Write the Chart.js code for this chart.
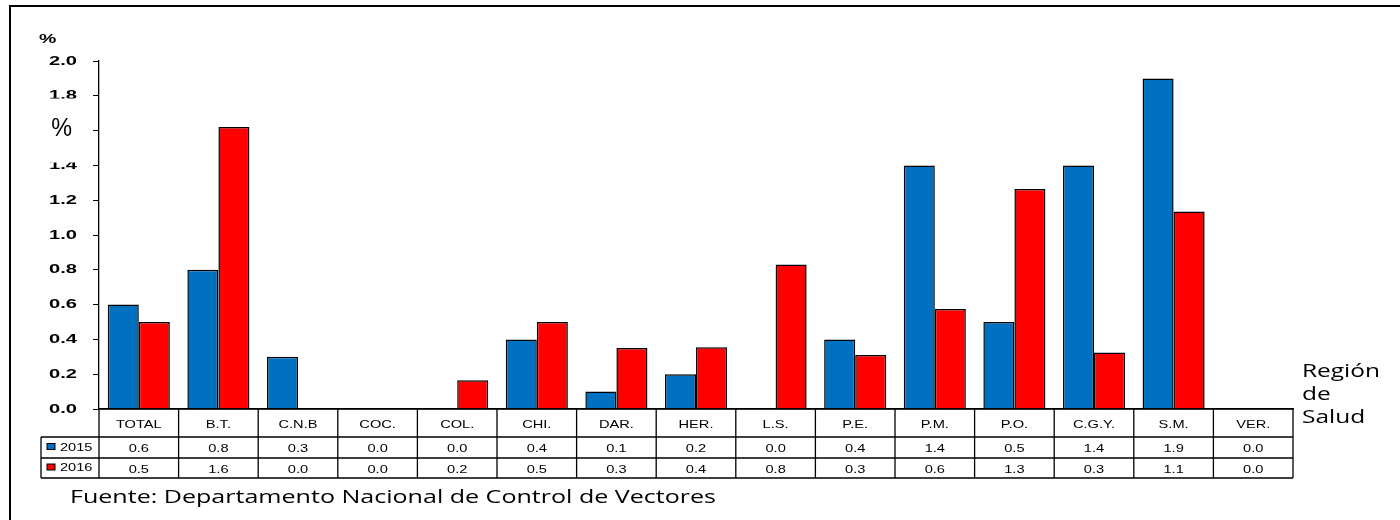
<!DOCTYPE html>
<html>
<head>
<meta charset="utf-8">
<script src="https://cdn.jsdelivr.net/npm/chart.js@4.4.1/dist/chart.umd.min.js"></script>
<style>
  html, body { margin: 0; padding: 0; background: #fff; }
  #wrap { width: 1400px; height: 520px; }
</style>
</head>
<body>
<div id="wrap"><canvas id="regionChart" width="1400" height="520"></canvas></div>
<script>
// data
const regions = ["TOTAL", "B.T.", "C.N.B", "COC.", "COL.", "CHI.", "DAR.", "HER.", "L.S.", "P.E.", "P.M.", "P.O.", "C.G.Y.", "S.M.", "VER."];
const years = ["2015", "2016"];
// bar heights (as drawn)
const bars2015 = [0.6, 0.8, 0.3, 0.0, 0.0, 0.4, 0.1, 0.2, 0.0, 0.4, 1.4, 0.5, 1.4, 1.9, 0.0];
const bars2016 = [0.5, 1.62, 0.0, 0.0, 0.165, 0.5, 0.35, 0.355, 0.83, 0.31, 0.575, 1.265, 0.325, 1.135, 0.0];
// values printed in the data table
const table2015 = ["0.6", "0.8", "0.3", "0.0", "0.0", "0.4", "0.1", "0.2", "0.0", "0.4", "1.4", "0.5", "1.4", "1.9", "0.0"];
const table2016 = ["0.5", "1.6", "0.0", "0.0", "0.2", "0.5", "0.3", "0.4", "0.8", "0.3", "0.6", "1.3", "0.3", "1.1", "0.0"];
const yTicks = [0, 0.2, 0.4, 0.6, 0.8, 1.0, 1.2, 1.4, 1.6, 1.8, 2.0];
const axisTitle = ["Región", "de", "Salud"];
const source = "Fuente: Departamento Nacional de Control de Vectores";

const BLUE = "#0070C0";
const RED = "#FF0000";
const ARIAL = "'Liberation Sans', Arial, sans-serif";
const CALIBRI = "'Open Sans', 'Noto Sans', sans-serif";

const isPct = v => Math.abs(v - 1.6) < 1e-6;

// the original picture is stretched sideways, so text is too
function wideText(ctx, text, x, y, font, sx, align) {
    ctx.save();
    ctx.font = font;
    ctx.textAlign = align || "left";
    ctx.textBaseline = "middle";
    ctx.translate(x, y);
    ctx.scale(sx, 1);
    ctx.fillText(text, 0, 0);
    ctx.restore();
}

// draws the frame, y labels, data table, side labels and source note
const tablePlugin = {
    id: "dataTable",
    afterDraw(chart) {
        const ctx = chart.ctx;
        const x = chart.scales.x;
        const y = chart.scales.y;
        const area = chart.chartArea;
        const catW = (area.right - area.left) / regions.length;
        const top = area.bottom;
        const r1 = top + 28, r2 = r1 + 21, r3 = r2 + 20;
        const legLeft = 41;

        ctx.save();
        ctx.fillStyle = "#000";
        ctx.strokeStyle = "#000";

        // outer frame
        ctx.lineWidth = 2;
        ctx.beginPath();
        ctx.moveTo(10, 530); ctx.lineTo(10, 6); ctx.lineTo(1400, 6);
        ctx.stroke();

        // y tick labels
        yTicks.forEach(v => {
            if (!isPct(v)) wideText(ctx, v.toFixed(1), 77, y.getPixelForValue(v), "bold 13px " + ARIAL, 1.55, "right");
        });
        // the "%" box that hides part of 1.8 and 1.4
        ctx.fillStyle = "#fff";
        ctx.fillRect(30, 98.5, 58, 64);
        ctx.fillStyle = "#000";
        wideText(ctx, "%", 72, y.getPixelForValue(1.6) - 2, "26px " + ARIAL, 0.9, "right");
        wideText(ctx, "%", 39, 39, "bold 13px " + ARIAL, 1.5, "left");

        // table grid
        ctx.lineWidth = 1.3;
        ctx.beginPath();
        ctx.moveTo(area.left, top); ctx.lineTo(area.right, top);
        [r1, r2, r3].forEach(yy => { ctx.moveTo(legLeft, yy); ctx.lineTo(area.right, yy); });
        for (let i = 0; i <= regions.length; i++) {
            const xx = area.left + i * catW;
            ctx.moveTo(xx, top); ctx.lineTo(xx, r3);
        }
        ctx.moveTo(legLeft, r1); ctx.lineTo(legLeft, r3);
        ctx.stroke();

        // table text
        const tf = "11px " + ARIAL;
        regions.forEach((name, i) => {
            const cx = x.getPixelForValue(i);
            wideText(ctx, name, cx, (top + r1) / 2 + 2, tf, 1.33, "center");
            wideText(ctx, table2015[i], cx, (r1 + r2) / 2 + 1.5, tf, 1.33, "center");
            wideText(ctx, table2016[i], cx, (r2 + r3) / 2 + 1.5, tf, 1.33, "center");
        });

        // legend keys
        [[BLUE, r1, r2], [RED, r2, r3]].forEach(([col, a, b], k) => {
            const cy = (a + b) / 2;
            ctx.fillStyle = col;
            ctx.fillRect(47, cy - 4, 8, 6);
            ctx.lineWidth = 1;
            ctx.strokeRect(47, cy - 4, 8, 6);
            ctx.fillStyle = "#000";
            wideText(ctx, years[k], 60, cy, "11.5px " + ARIAL, 1.27, "left");
        });

        // axis title on the right
        const tFont = "18px " + CALIBRI;
        ctx.font = tFont;
        const tsx = 78 / ctx.measureText(axisTitle[0]).width;
        axisTitle.forEach((t, k) => wideText(ctx, t, 1302, 372 + k * 23, tFont, tsx, "left"));

        // source
        const sFont = "18px " + CALIBRI;
        ctx.font = sFont;
        const ssx = 646 / ctx.measureText(source).width;
        wideText(ctx, source, 70, 498, sFont, ssx, "left");
        ctx.restore();
    }
};

const chart = new Chart(document.getElementById("regionChart").getContext("2d"), {
    type: "bar",
    data: {
        labels: regions,
        datasets: [
            { label: years[0], data: bars2015, backgroundColor: BLUE, borderColor: "#000", borderWidth: 1.5 },
            { label: years[1], data: bars2016, backgroundColor: RED, borderColor: "#000", borderWidth: 1.5 }
        ]
    },
    options: {
        responsive: false,
        animation: false,
        layout: { padding: { top: 61, right: 107, left: 0, bottom: 0 } },
        plugins: { legend: { display: false }, tooltip: { enabled: false } },
        datasets: { bar: { categoryPercentage: 0.78, barPercentage: 1.0 } },
        scales: {
            x: {
                grid: { display: false },
                border: { display: true, color: "#000", width: 1.3 },
                ticks: { display: false },
                afterFit: s => { s.height = 111; }
            },
            y: {
                min: 0,
                max: 2,
                afterBuildTicks: s => { s.ticks = yTicks.map(v => ({ value: v })); },
                afterFit: s => { s.width = 99; },
                grid: { drawOnChartArea: false, drawTicks: true, color: "#000", tickLength: 6, lineWidth: 1 },
                border: { display: true, color: "#000", width: 1.3 },
                ticks: { display: false }
            }
        }
    },
    plugins: [tablePlugin]
});
</script>
</body>
</html>
